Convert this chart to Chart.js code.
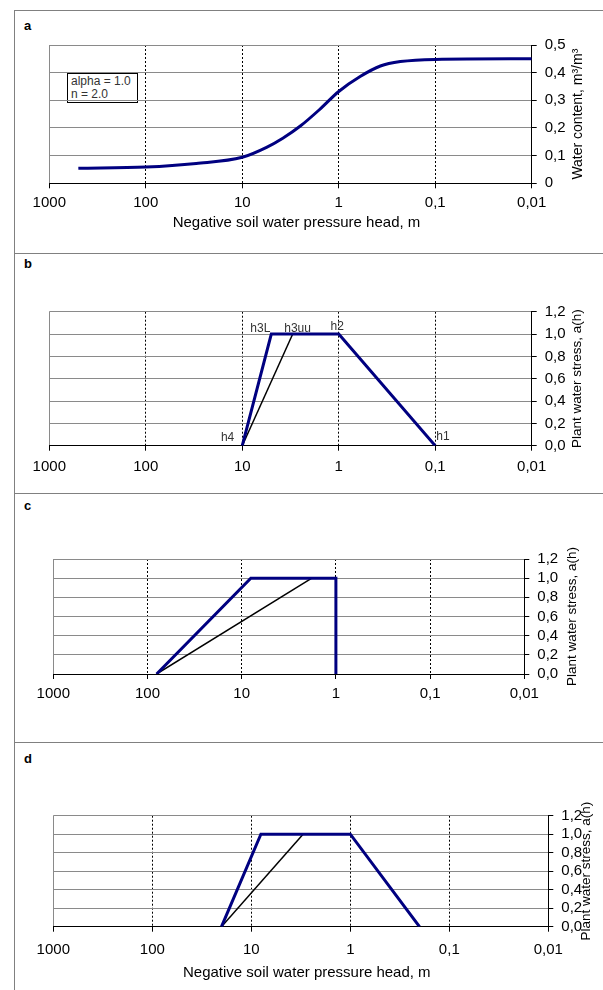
<!DOCTYPE html>
<html>
<head>
<meta charset="utf-8">
<script src="https://cdn.jsdelivr.net/npm/chart.js@4.4.1/dist/chart.umd.min.js"></script>
<style>
  html, body { margin: 0; padding: 0; background: #fff; }
  body { width: 603px; height: 990px; position: relative; overflow: hidden; font-family: "Liberation Sans", Arial, sans-serif; }
  canvas { position: absolute; left: 0; }
  .rule { position: absolute; background: #808080; }
  .letter { position: absolute; left: 24px; font-size: 13px; font-weight: bold; line-height: 16px; color: #000; }
  .params { position: absolute; left: 67px; top: 73px; width: 66px; height: 27px; border: 1.5px solid #000;
            font-size: 12px; line-height: 13px; color: #333; padding: 1px 0 0 3px; }
</style>
</head>
<body>
<div class="rule" style="left:14px; top:10px; width:1px; height:980px"></div>
<div class="rule" style="left:14px; top:10px; width:589px; height:1px"></div>
<div class="rule" style="left:14px; top:253px; width:589px; height:1px"></div>
<div class="rule" style="left:14px; top:493px; width:589px; height:1px"></div>
<div class="rule" style="left:14px; top:742px; width:589px; height:1px"></div>
<div class="letter" style="top:18px">a</div>
<div class="letter" style="top:256px">b</div>
<div class="letter" style="top:498px">c</div>
<div class="letter" style="top:751px">d</div>
<div class="params">alpha = 1.0<br>n = 2.0</div>

<script>
// x axis: negative soil water pressure head (m), log scale, reversed
const headTicks = [1000, 100, 10, 1, 0.1, 0.01];

// a: water retention curve (alpha = 1.0, n = 2.0)
const retentionHead = [500, 100, 30, 10, 5.6, 3.8, 2.5, 1.6, 1, 0.6, 0.37, 0.23, 0.1, 0.01];
const retentionTheta = [0.054, 0.059, 0.072, 0.094, 0.13, 0.163, 0.207, 0.265, 0.332, 0.386, 0.424, 0.44, 0.448, 0.45];
const thetaTicks = [0, 0.1, 0.2, 0.3, 0.4, 0.5];

// b, c, d: plant water stress a(h)
const stressTicks = [0, 0.2, 0.4, 0.6, 0.8, 1.0, 1.2];

const bBlueHead = [10, 5, 1, 0.1];
const bBlueStress = [0, 1, 1, 0];
const bBlackHead = [10, 3];
const bBlackStress = [0, 1];
const bLabels = ['h4', 'h3L', 'h3uu', 'h2', 'h1'];
const bLabelHead = [10, 5, 3, 1, 0.1];
const bLabelStress = [0, 1, 1, 1, 0];

const cBlueHead = [80, 8, 1, 1];
const cBlueStress = [0, 1, 1, 0];
const cBlackHead = [80, 1.8];
const cBlackStress = [0, 1];

const dBlueHead = [20, 8, 1, 0.2];
const dBlueStress = [0, 1, 1, 0];
const dBlackHead = [20, 3];
const dBlackStress = [0, 1];

// styling
const FONT = '"Liberation Sans", Arial, sans-serif';
const GRID_GRAY = '#8a8a8a';
const NAVY = '#000080';
const PAGE_W = 603;
const Y_AXIS_W = 40;
const X_AXIS_H = 30;

const X_TITLE = 'Negative soil water pressure head, m';
const STRESS_TITLE = 'Plant water stress, a(h)';

// label offsets for panel b (pixels from the point)
const bLabelStyle = [
  { align: 'right', dx: -8, dy: -8 },
  { align: 'right', dx: -1, dy: -5 },
  { align: 'left', dx: -8.5, dy: -5 },
  { align: 'center', dx: -1.5, dy: -7 },
  { align: 'left', dx: 1, dy: -9 }
];

function toPoints(xs, ys) {
  return xs.map((x, i) => ({ x, y: ys[i] }));
}

function comma(v) {
  return String(v).replace('.', ',');
}

const axisTitles = {
  id: 'axisTitles',
  afterDraw(chart, args, opts) {
    const { ctx, chartArea } = chart;
    ctx.save();
    ctx.fillStyle = '#000';
    ctx.textAlign = 'center';
    ctx.textBaseline = 'middle';
    if (opts.xText) {
      ctx.font = opts.xSize + 'px ' + FONT;
      ctx.fillText(opts.xText, (chartArea.left + chartArea.right) / 2 + opts.xShift, chartArea.bottom + opts.xOffset);
    }
    if (opts.yText) {
      ctx.font = opts.ySize + 'px ' + FONT;
      ctx.translate(chartArea.right + opts.yOffset, (chartArea.top + chartArea.bottom) / 2);
      ctx.rotate(-Math.PI / 2);
      ctx.fillText(opts.yText, 0, 0);
    }
    ctx.restore();
  }
};

const pointLabels = {
  id: 'pointLabels',
  afterDatasetsDraw(chart, args, opts) {
    if (!opts.labels) return;
    const { ctx, scales } = chart;
    ctx.save();
    ctx.font = '12px ' + FONT;
    ctx.fillStyle = '#333';
    ctx.textBaseline = 'middle';
    opts.labels.forEach((text, i) => {
      const s = opts.style[i];
      ctx.textAlign = s.align;
      ctx.fillText(text,
        scales.x.getPixelForValue(opts.heads[i]) + s.dx,
        scales.y.getPixelForValue(opts.values[i]) + s.dy);
    });
    ctx.restore();
  }
};

function buildPanel(p) {
  const canvasTop = Math.round(p.area.top) - 20;
  const height = Math.round(p.area.bottom) + 70 - canvasTop;
  const canvas = document.createElement('canvas');
  canvas.width = PAGE_W;
  canvas.height = height;
  canvas.style.top = canvasTop + 'px';
  canvas.style.width = PAGE_W + 'px';
  canvas.style.height = height + 'px';
  document.body.appendChild(canvas);

  return new Chart(canvas, {
    type: 'scatter',
    data: { datasets: p.datasets },
    plugins: [axisTitles, pointLabels],
    options: {
      responsive: false,
      animation: false,
      events: [],
      layout: {
        autoPadding: false,
        padding: {
          left: p.area.left,
          top: p.area.top - canvasTop,
          right: PAGE_W - p.area.right - Y_AXIS_W,
          bottom: height - (p.area.bottom - canvasTop) - X_AXIS_H
        }
      },
      plugins: {
        legend: { display: false },
        tooltip: { enabled: false },
        axisTitles: p.titles,
        pointLabels: p.pointLabels || {}
      },
      scales: {
        x: {
          type: 'logarithmic',
          position: 'bottom',
          reverse: true,
          min: 0.01,
          max: 1000,
          afterBuildTicks: s => { s.ticks = headTicks.map(v => ({ value: v })); },
          afterFit: s => { s.height = X_AXIS_H; },
          ticks: {
            autoSkip: false,
            maxRotation: 0,
            minRotation: 0,
            padding: p.xTickPad,
            color: '#000',
            font: { family: FONT, size: 15 },
            callback: v => comma(v)
          },
          grid: {
            color: c => (c.tick && c.tick.value === 1000 ? GRID_GRAY : '#000'),
            lineWidth: 1,
            tickLength: 5,
            tickColor: '#000',
            tickBorderDash: []
          },
          border: {
            color: '#000',
            width: 1,
            dash: c => (c.tick && c.tick.value === 1000 ? [] : [2, 2])
          }
        },
        y: {
          type: 'linear',
          position: 'right',
          min: p.yTicks[0],
          max: p.yTicks[p.yTicks.length - 1],
          afterBuildTicks: s => { s.ticks = p.yTicks.map(v => ({ value: v })); },
          afterFit: s => { s.width = Y_AXIS_W; },
          ticks: {
            autoSkip: false,
            padding: 8,
            color: '#000',
            font: { family: FONT, size: 15 },
            callback: p.yFormat
          },
          grid: {
            color: c => (c.tick && c.tick.value === 0 ? '#000' : GRID_GRAY),
            lineWidth: 1,
            tickLength: 5,
            tickColor: '#000'
          },
          border: { color: '#000', width: 1 }
        }
      }
    }
  });
}

function stressSets(blueHead, blueStress, blackHead, blackStress) {
  return [
    { data: toPoints(blueHead, blueStress), borderColor: NAVY, borderWidth: 3, showLine: true, pointRadius: 0, tension: 0 },
    { data: toPoints(blackHead, blackStress), borderColor: '#000', borderWidth: 1.5, showLine: true, pointRadius: 0, tension: 0 }
  ];
}

const stressFormat = v => v.toFixed(1).replace('.', ',');

buildPanel({
  area: { left: 49.3, right: 531.7, top: 45, bottom: 183.3 },
  xTickPad: 5.4,
  yTicks: thetaTicks,
  yFormat: v => comma(v),
  titles: { xText: X_TITLE, xSize: 15, xShift: 6, xOffset: 39.7, yText: 'Water content, m³/m³', ySize: 14, yOffset: 46.3 },
  datasets: [
    { data: toPoints(retentionHead, retentionTheta), borderColor: NAVY, borderWidth: 3, showLine: true,
      pointRadius: 0, cubicInterpolationMode: 'monotone' }
  ]
});

buildPanel({
  area: { left: 49.3, right: 531.7, top: 311.7, bottom: 445.7 },
  xTickPad: 7,
  yTicks: stressTicks,
  yFormat: stressFormat,
  titles: { yText: STRESS_TITLE, ySize: 13.5, yOffset: 45.3 },
  pointLabels: { labels: bLabels, heads: bLabelHead, values: bLabelStress, style: bLabelStyle },
  datasets: stressSets(bBlueHead, bBlueStress, bBlackHead, bBlackStress)
});

buildPanel({
  area: { left: 53.3, right: 524.3, top: 559, bottom: 674 },
  xTickPad: 6,
  yTicks: stressTicks,
  yFormat: stressFormat,
  titles: { yText: STRESS_TITLE, ySize: 13.5, yOffset: 48 },
  datasets: stressSets(cBlueHead, cBlueStress, cBlackHead, cBlackStress)
});

buildPanel({
  area: { left: 53.3, right: 548.3, top: 815.7, bottom: 926.7 },
  xTickPad: 9.3,
  yTicks: stressTicks,
  yFormat: stressFormat,
  titles: { xText: X_TITLE, xSize: 15, xShift: 6, xOffset: 46.3, yText: STRESS_TITLE, ySize: 13.5, yOffset: 38 },
  datasets: stressSets(dBlueHead, dBlueStress, dBlackHead, dBlackStress)
});
</script>
</body>
</html>
